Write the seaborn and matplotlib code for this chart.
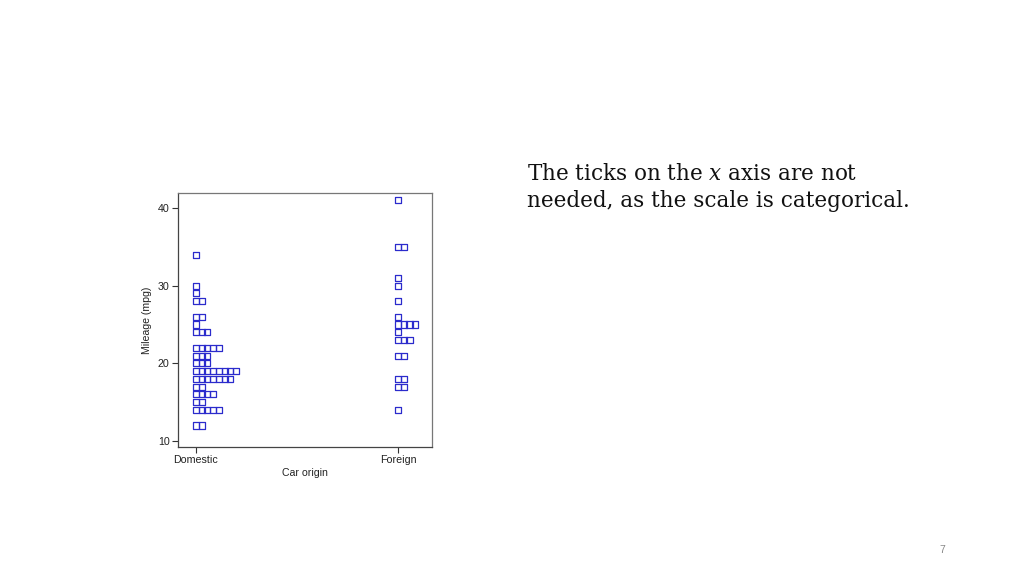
import numpy as np
import pandas as pd
import matplotlib
matplotlib.use("Agg")
import matplotlib.pyplot as plt
import seaborn as sns

# Data: mileage values and how many cars share each value
origins = ["Domestic", "Foreign"]
dom_mpg = [12, 14, 15, 16, 17, 18, 19, 20, 21, 22, 24, 25, 26, 28, 29, 30, 34]
dom_cnt = [2, 5, 2, 4, 2, 7, 8, 3, 3, 5, 3, 1, 2, 2, 1, 1, 1]
for_mpg = [14, 17, 18, 21, 23, 24, 25, 26, 28, 30, 31, 35, 41]
for_cnt = [1, 2, 2, 2, 3, 1, 4, 1, 1, 1, 1, 2, 1]
y_ticks = [10, 20, 30, 40]

rows = []
for origin, mpgs, cnts in [("Domestic", dom_mpg, dom_cnt), ("Foreign", for_mpg, for_cnt)]:
    for m, c in zip(mpgs, cnts):
        rows += [(origin, m)] * c
df = pd.DataFrame(rows, columns=["origin", "mpg"])
df["rank"] = df.groupby(["origin", "mpg"]).cumcount()
step = 0.0283
df["xpos"] = df["origin"].map({o: i for i, o in enumerate(origins)}) + df["rank"] * step

sns.set_style("white")
plt.rcParams["font.family"] = ["Liberation Sans", "DejaVu Sans"]
plt.rcParams["mathtext.fontset"] = "dejavuserif"

fig = plt.figure(figsize=(10.24, 5.76), dpi=100)
ax = fig.add_axes([178 / 1024, 1 - 447 / 576, 254 / 1024, 254 / 576])

sns.scatterplot(data=df, x="xpos", y="mpg", marker="s", s=19,
                facecolor="none", edgecolor="#2b2bcc", linewidth=0.9, ax=ax, legend=False)

ax.set_xlim(-0.089, 1.168)
ax.set_ylim(9.23, 41.93)
ax.set_xticks([0, 1])
ax.set_xticklabels(origins)
ax.set_yticks(y_ticks)
ax.tick_params(axis="both", which="both", direction="out", length=4, width=0.8,
               color="#333333", labelsize=7.7, labelcolor="#222222", pad=2,
               left=True, bottom=True)
ax.set_xlabel("Car origin", fontsize=7.6, color="#222222", labelpad=2)
ax.set_ylabel("Mileage (mpg)", fontsize=7.6, color="#222222", labelpad=4)
for side, sp in ax.spines.items():
    sp.set_visible(True)
    sp.set_linewidth(0.9)
    sp.set_color("#444444" if side in ("left", "bottom") else "#777777")

fig.text(527 / 1024, 1 - 180 / 576, "The ticks on the $\\mathit{x}$ axis are not",
         family="DejaVu Serif", fontsize=15.5, color="#111111", va="baseline")
fig.text(527 / 1024, 1 - 207 / 576, "needed, as the scale is categorical.",
         family="DejaVu Serif", fontsize=15.5, color="#111111", va="baseline")
fig.text(942 / 1024, 1 - 553 / 576, "7", fontsize=7.5, color="#888888", ha="center")

fig.savefig("out.png", dpi=100)
